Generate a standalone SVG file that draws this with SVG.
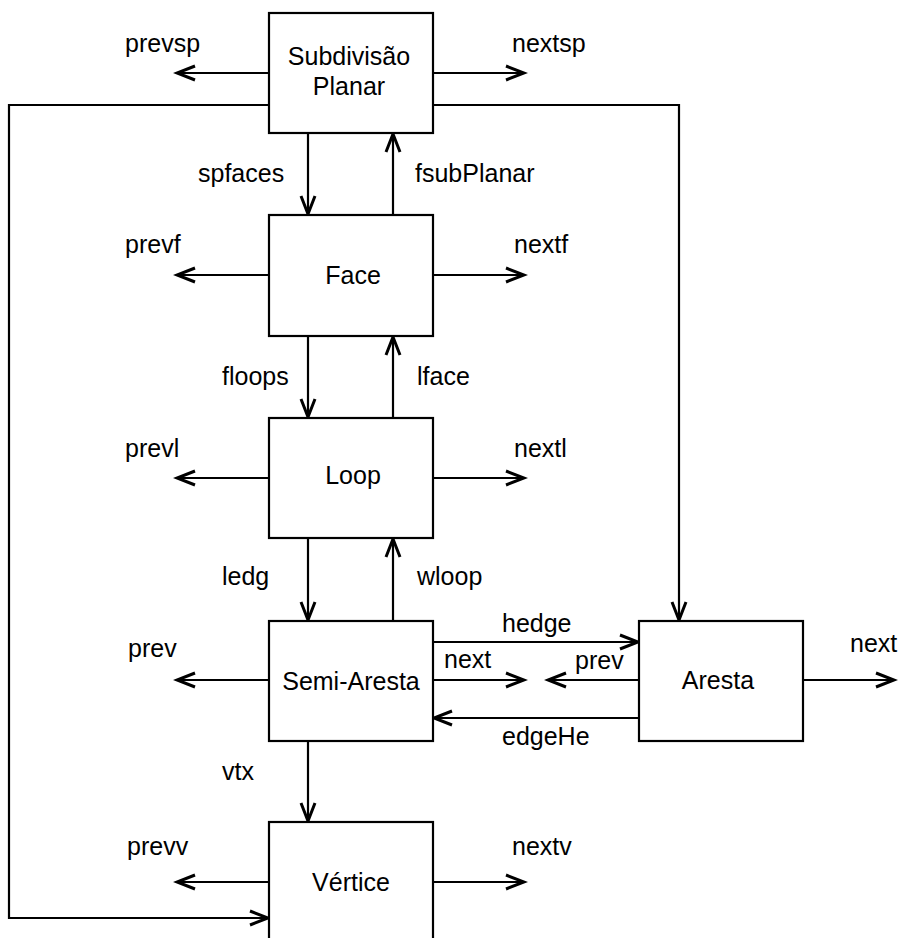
<svg xmlns="http://www.w3.org/2000/svg" width="899" height="938" viewBox="0 0 899 938">
<style>
text{font-family:"Liberation Sans",Arial,sans-serif;font-size:25px;fill:#000}
.c{text-anchor:middle}
.box{fill:#fff;stroke:#000;stroke-width:2.2}
.ln{fill:none;stroke:#000;stroke-width:2.2}
</style>
<defs>
<marker id="ar" markerUnits="userSpaceOnUse" markerWidth="26" markerHeight="24" viewBox="-22 -12 26 24" refX="0" refY="0" orient="auto">
<path d="M-18,-7 L0,0 L-18,7" fill="none" stroke="#000" stroke-width="3"/>
</marker>
</defs>
<rect width="899" height="938" fill="#fff"/>
<g id="connectors">
<path class="ln" d="M269,73 H177" marker-end="url(#ar)"/>
<path class="ln" d="M433,73 H524" marker-end="url(#ar)"/>
<path class="ln" d="M269,105 H9 V918 H268" marker-end="url(#ar)"/>
<path class="ln" d="M433,105 H679 V620" marker-end="url(#ar)"/>
<path class="ln" d="M308,133 V214" marker-end="url(#ar)"/>
<path class="ln" d="M393,215 V134" marker-end="url(#ar)"/>
<path class="ln" d="M269,275 H177" marker-end="url(#ar)"/>
<path class="ln" d="M433,275 H524" marker-end="url(#ar)"/>
<path class="ln" d="M308,336 V417" marker-end="url(#ar)"/>
<path class="ln" d="M393,418 V337" marker-end="url(#ar)"/>
<path class="ln" d="M269,478 H177" marker-end="url(#ar)"/>
<path class="ln" d="M433,478 H524" marker-end="url(#ar)"/>
<path class="ln" d="M308,538 V620" marker-end="url(#ar)"/>
<path class="ln" d="M393,621 V539" marker-end="url(#ar)"/>
<path class="ln" d="M269,680 H177" marker-end="url(#ar)"/>
<path class="ln" d="M433,680 H524" marker-end="url(#ar)"/>
<path class="ln" d="M433,642 H638" marker-end="url(#ar)"/>
<path class="ln" d="M639,718 H434" marker-end="url(#ar)"/>
<path class="ln" d="M639,680 H548" marker-end="url(#ar)"/>
<path class="ln" d="M803,680 H894" marker-end="url(#ar)"/>
<path class="ln" d="M308,741 V821" marker-end="url(#ar)"/>
<path class="ln" d="M269,882 H177" marker-end="url(#ar)"/>
<path class="ln" d="M433,882 H524" marker-end="url(#ar)"/>
</g>
<g id="labels">
<text x="125" y="52">prevsp</text>
<text x="512" y="52">nextsp</text>
<text x="198" y="182">spfaces</text>
<text x="415" y="182">fsubPlanar</text>
<text x="125" y="253">prevf</text>
<text x="514" y="253">nextf</text>
<text x="222" y="385">floops</text>
<text x="417" y="385">lface</text>
<text x="125" y="457">prevl</text>
<text x="514" y="457">nextl</text>
<text x="222" y="585">ledg</text>
<text x="417" y="585">wloop</text>
<text x="128" y="657">prev</text>
<text x="502" y="632">hedge</text>
<text x="444" y="668">next</text>
<text x="575" y="669">prev</text>
<text x="502" y="745">edgeHe</text>
<text x="850" y="652">next</text>
<text x="222" y="780">vtx</text>
<text x="127" y="855">prevv</text>
<text x="512" y="855">nextv</text>
</g>
<g id="subdivisao">
<rect class="box" x="269" y="13" width="164" height="120"/>
<text class="c" x="349" y="65">Subdivisão</text>
<text class="c" x="349" y="95">Planar</text>
</g>
<g id="face">
<rect class="box" x="269" y="215" width="164" height="121"/>
<text class="c" x="353" y="284">Face</text>
</g>
<g id="loop">
<rect class="box" x="269" y="418" width="164" height="120"/>
<text class="c" x="353" y="484">Loop</text>
</g>
<g id="semiaresta">
<rect class="box" x="269" y="621" width="164" height="120"/>
<text class="c" x="351" y="690">Semi-Aresta</text>
</g>
<g id="aresta">
<rect class="box" x="639" y="621" width="164" height="120"/>
<text class="c" x="718" y="689">Aresta</text>
</g>
<g id="vertice">
<rect class="box" x="269" y="822" width="164" height="140"/>
<text class="c" x="351" y="891">Vértice</text>
</g>
</svg>
